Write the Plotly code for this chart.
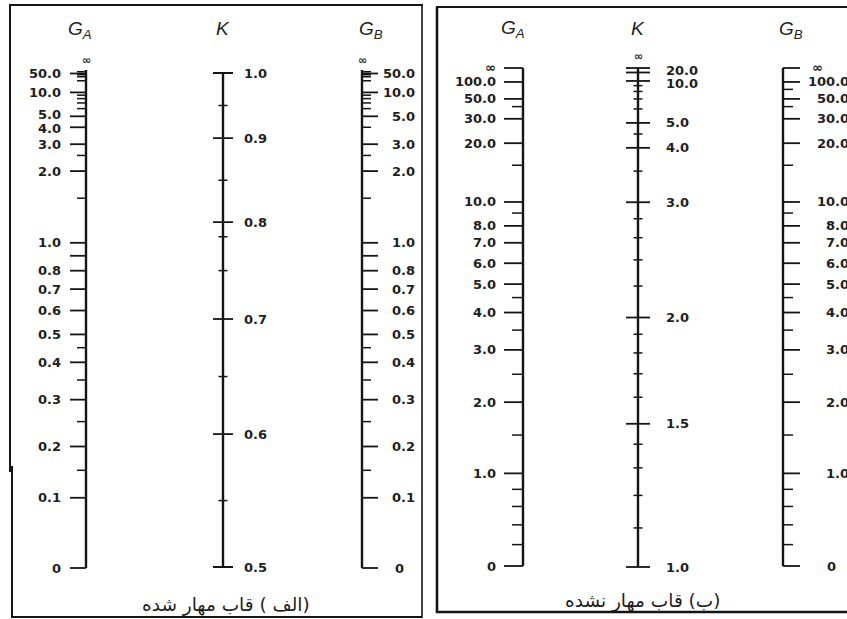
import numpy as np
import plotly.graph_objects as go

INF = float("inf")

# ---------------- Data ----------------
# (الف) braced frame — G scale calibration: value -> fraction along scale
BR_G_CAL_VALUES = [0, 0.1, 0.2, 0.3, 0.4, 0.5, 0.6, 0.7, 0.8, 1.0, 2.0, 3.0, 4.0, 5.0, 10.0, 50.0, INF]
BR_G_CAL_FRAC = [0, 0.141, 0.244, 0.338, 0.413, 0.469, 0.517, 0.560, 0.597, 0.653,
                 0.797, 0.851, 0.885, 0.907, 0.955, 0.993, 1.0]
BR_GA_MAJOR = [0, 0.1, 0.2, 0.3, 0.4, 0.5, 0.6, 0.7, 0.8, 0.9, 1.0, 2.0, 3.0, 4.0, 5.0, 10.0, 50.0]
BR_GA_MINOR = [0.15, 0.25, 0.35, 0.45, 1.5, 2.5, 6, 7, 8, 9, 20, 30, 40, 100]
BR_GA_LABELS = [0, 0.1, 0.2, 0.3, 0.4, 0.5, 0.6, 0.7, 0.8, 1.0, 2.0, 3.0, 4.0, 5.0, 10.0, 50.0]
BR_GB_MAJOR = [0, 0.1, 0.2, 0.3, 0.4, 0.5, 0.6, 0.7, 0.8, 0.9, 1.0, 2.0, 3.0, 5.0, 10.0, 50.0]
BR_GB_MINOR = [0.15, 0.25, 0.35, 0.45, 1.5, 2.5, 4.0, 6, 7, 8, 9, 20, 30, 40, 100]
BR_GB_LABELS = [0, 0.1, 0.2, 0.3, 0.4, 0.5, 0.6, 0.7, 0.8, 1.0, 2.0, 3.0, 5.0, 10.0, 50.0]
BR_K_CAL_VALUES = [0.5, 0.6, 0.7, 0.8, 0.9, 1.0]
BR_K_CAL_FRAC = [0, 0.269, 0.502, 0.698, 0.868, 1.0]
BR_K_MAJOR = [0.5, 0.6, 0.7, 0.8, 0.9, 1.0]
BR_K_MINOR = [0.55, 0.65, 0.75, 0.785, 0.85, 0.95]
BR_K_LABELS = [0.5, 0.6, 0.7, 0.8, 0.9, 1.0]

# (ب) unbraced frame
UB_G_CAL_VALUES = [0, 1, 2, 3, 4, 5, 6, 7, 8, 10, 20, 30, 50, 100, INF]
UB_G_CAL_FRAC = [0, 0.186, 0.329, 0.434, 0.509, 0.566, 0.608, 0.649, 0.683, 0.731,
                 0.849, 0.898, 0.938, 0.972, 1.0]
UB_GA_MAJOR = [0, 1, 2, 3, 4, 5, 6, 7, 8, 10, 20, 30, 50, 100, INF]
UB_GA_MINOR = [0.2, 0.4, 0.6, 0.8, 1.5, 2.5, 3.5, 4.5, 9, 15, 40]
UB_GA_LABELS = [0, 1, 2, 3, 4, 5, 6, 7, 8, 10, 20, 30, 50, 100, INF]
UB_GB_MAJOR = [0, 1, 2, 3, 4, 5, 6, 7, 8, 10, 20, 30, 50, 100, INF]
UB_GB_MINOR = [0.2, 0.4, 0.6, 0.8, 1.5, 2.5, 3.5, 4.5, 9, 15, 40, 70]
UB_GB_LABELS = [0, 1, 2, 3, 4, 5, 6, 7, 8, 10, 20, 30, 50, 100]
UB_K_CAL_VALUES = [1.0, 1.5, 2.0, 3.0, 4.0, 5.0, 10.0, 20.0, INF]
UB_K_CAL_FRAC = [0, 0.287, 0.500, 0.731, 0.840, 0.890, 0.974, 0.991, 1.0]
UB_K_MAJOR = [1.0, 1.5, 2.0, 3.0, 4.0, 5.0, 10.0, 20.0, INF]
UB_K_MINOR = [1.1, 1.2, 1.3, 1.4, 1.6, 1.7, 1.8, 1.9, 2.2, 2.4, 2.6, 2.8, 3.5, 4.5, 6, 7, 8, 9]
UB_K_LABELS = [1.0, 1.5, 2.0, 3.0, 4.0, 5.0, 10.0, 20.0]

CAPTION_BRACED = "\u202b(الف ) قاب مهار شده\u202c"
CAPTION_UNBRACED = "\u202b(ب) قاب مهار نشده\u202c"

# ---------------- Layout / style ----------------
W, H = 847, 619
INK = "#151515"
NUM_FONT = dict(family="DejaVu Sans", size=13, color="#1e1e1e", weight="bold")
TITLE_FONT = dict(family="Liberation Sans", size=19, color="#1e1e1e", style="italic")
CAP_FONT = dict(family="DejaVu Sans", size=18.5, color="#1e1e1e")
PAD = 0.05
# small vertical nudges (px) for crowded labels, keyed by value
NUDGE_BR_GA = {5.0: -1.5, 4.0: 1.5}
NUDGE_UB_K = {20.0: -2, 10.0: 3}


def warp_g(c):
    return lambda v: 1.0 if np.isinf(v) else v / (v + c)


def warp_lin(v):
    return v


def warp_inv(v):
    return 1.0 if np.isinf(v) else 1.0 - 1.0 / v


def make_scale(cal_vals, cal_frac, warp):
    wv = np.array([warp(v) for v in cal_vals])
    fr = np.array(cal_frac)
    return lambda v: float(np.interp(warp(v), wv, fr))


def fmt(v):
    if np.isinf(v):
        return "∞"
    if v == 0:
        return "0"
    return f"{v:.1f}"


def axis_domain(y_bottom_px, y_top_px):
    L = y_bottom_px - y_top_px
    return [1 - (y_bottom_px + PAD * L) / H, 1 - (y_top_px - PAD * L) / H]


traces = []
annotations = []


def tick_trace(xc, side, length, values, scale, yaxis, width):
    xs, ys = [], []
    for v in values:
        s = scale(v)
        if side == "left":
            xs += [xc - length, xc, None]
        elif side == "right":
            xs += [xc, xc + length, None]
        else:
            xs += [xc - length, xc + length, None]
        ys += [s, s, None]
    traces.append(go.Scatter(x=xs, y=ys, mode="lines", xaxis="x", yaxis=yaxis,
                             line=dict(color=INK, width=width), hoverinfo="skip",
                             showlegend=False))


def spine(xc, yaxis):
    traces.append(go.Scatter(x=[xc, xc], y=[0, 1], mode="lines", xaxis="x", yaxis=yaxis,
                             line=dict(color=INK, width=2.4), hoverinfo="skip",
                             showlegend=False))


def labels(values, scale, yref, x, anchor, special_zero=None, nudge=None, xshift=0):
    for v in values:
        xx, aa, xs = x, anchor, xshift
        if v == 0 and special_zero is not None:
            xx, aa = special_zero
            xs = 0
        ys = -(nudge or {}).get(v, 0)
        annotations.append(dict(x=xx, y=scale(v), xref="x", yref=yref, text=fmt(v),
                                showarrow=False, xanchor=aa, yanchor="middle",
                                xshift=xs, yshift=ys, font=NUM_FONT))


def top_symbol(x, yref, yshift=1):
    annotations.append(dict(x=x, y=1.0, xref="x", yref=yref, text="∞", showarrow=False,
                            xanchor="center", yanchor="bottom", yshift=yshift,
                            font=dict(family="DejaVu Sans", size=11, color="#1e1e1e",
                                      weight="bold")))


def title(x, text, ypx):
    annotations.append(dict(x=x, y=1 - ypx / H, xref="x", yref="paper", text=text,
                            showarrow=False, xanchor="center", yanchor="middle",
                            font=TITLE_FONT))


# ---- braced panel (الف)
br_g = make_scale(BR_G_CAL_VALUES, BR_G_CAL_FRAC, warp_g(0.55))
br_k = make_scale(BR_K_CAL_VALUES, BR_K_CAL_FRAC, warp_lin)
BR_GA_X, BR_K_X, BR_GB_X = 86, 223, 362

spine(BR_GA_X, "y")
tick_trace(BR_GA_X, "left", 16, BR_GA_MAJOR, br_g, "y", 1.8)
tick_trace(BR_GA_X, "left", 9, BR_GA_MINOR, br_g, "y", 1.5)
labels(BR_GA_LABELS, br_g, "y", 63, "right", nudge=NUDGE_BR_GA)
top_symbol(BR_GA_X, "y")

spine(BR_GB_X, "y")
tick_trace(BR_GB_X, "right", 16, BR_GB_MAJOR, br_g, "y", 1.8)
tick_trace(BR_GB_X, "right", 9, BR_GB_MINOR, br_g, "y", 1.5)
labels(BR_GB_LABELS, br_g, "y", 417, "right", special_zero=(393, "left"))
top_symbol(BR_GB_X, "y")

spine(BR_K_X, "y2")
tick_trace(BR_K_X, "both", 10, BR_K_MAJOR, br_k, "y2", 1.8)
tick_trace(BR_K_X, "both", 4.5, BR_K_MINOR, br_k, "y2", 1.5)
labels(BR_K_LABELS, br_k, "y2", 242, "left")

title(80, "<i>G</i><sub><i>A</i></sub>", 30)
title(223, "<i>K</i>", 28)
title(371, "<i>G</i><sub><i>B</i></sub>", 30)

# ---- unbraced panel (ب)
ub_g = make_scale(UB_G_CAL_VALUES, UB_G_CAL_FRAC, warp_g(5.0))
ub_k = make_scale(UB_K_CAL_VALUES, UB_K_CAL_FRAC, warp_inv)
UB_GA_X, UB_K_X, UB_GB_X = 523, 638, 783

spine(UB_GA_X, "y3")
tick_trace(UB_GA_X, "left", 19, UB_GA_MAJOR, ub_g, "y3", 1.8)
tick_trace(UB_GA_X, "left", 11, UB_GA_MINOR, ub_g, "y3", 1.5)
labels(UB_GA_LABELS, ub_g, "y3", 498, "right")

spine(UB_GB_X, "y3")
tick_trace(UB_GB_X, "right", 17, UB_GB_MAJOR, ub_g, "y3", 1.8)
tick_trace(UB_GB_X, "right", 10, UB_GB_MINOR, ub_g, "y3", 1.5)
# labels run off the right edge of the picture as in the reference
labels(UB_GB_LABELS, ub_g, "y3", W, "right", special_zero=(825, "left"), xshift=4)
annotations.append(dict(x=810, y=ub_g(INF), xref="x", yref="y3", text="∞", showarrow=False,
                        xanchor="left", yanchor="middle", font=NUM_FONT))

spine(UB_K_X, "y4")
tick_trace(UB_K_X, "both", 12, UB_K_MAJOR, ub_k, "y4", 1.8)
tick_trace(UB_K_X, "both", 4.5, UB_K_MINOR, ub_k, "y4", 1.5)
labels(UB_K_LABELS, ub_k, "y4", 664, "left", nudge=NUDGE_UB_K)
top_symbol(UB_K_X, "y4", yshift=3)

title(513, "<i>G</i><sub><i>A</i></sub>", 29)
title(638, "<i>K</i>", 28)
title(791, "<i>G</i><sub><i>B</i></sub>", 30)

# captions
annotations.append(dict(x=226, y=1 - 605 / H, xref="x", yref="paper", text=CAPTION_BRACED,
                        showarrow=False, xanchor="center", yanchor="middle", font=CAP_FONT))
annotations.append(dict(x=642, y=1 - 601 / H, xref="x", yref="paper", text=CAPTION_UNBRACED,
                        showarrow=False, xanchor="center", yanchor="middle", font=CAP_FONT))


def pline(x0, y0, x1, y1, w):
    return dict(type="line", xref="x", yref="paper", x0=x0, x1=x1,
                y0=1 - y0 / H, y1=1 - y1 / H, line=dict(color=INK, width=w))


shapes = [
    # braced frame
    pline(9, 5, 423, 5, 2), pline(422, 5, 422, 618, 1.6), pline(12, 617, 422, 617, 2),
    pline(10, 5, 10, 472, 2), pline(12, 466, 12, 618, 2),
    # unbraced frame
    pline(436, 7, W, 7, 2.2), pline(437, 7, 437, 613, 2.6), pline(436, 612, W, 612, 2.6),
]

fig = go.Figure(traces)
hidden = dict(visible=False, fixedrange=True)
fig.update_layout(
    width=W, height=H, margin=dict(l=0, r=0, t=0, b=0),
    paper_bgcolor="white", plot_bgcolor="rgba(0,0,0,0)", showlegend=False,
    xaxis=dict(range=[0, W], domain=[0, 1], anchor="y", **hidden),
    yaxis=dict(range=[-PAD, 1 + PAD], domain=axis_domain(568, 70), anchor="x", **hidden),
    yaxis2=dict(range=[-PAD, 1 + PAD], domain=axis_domain(567, 73), anchor="x", **hidden),
    yaxis3=dict(range=[-PAD, 1 + PAD], domain=axis_domain(566, 68), anchor="x", **hidden),
    yaxis4=dict(range=[-PAD, 1 + PAD], domain=axis_domain(567, 68), anchor="x", **hidden),
    annotations=annotations, shapes=shapes,
)
fig.write_html("out.html", config={"displayModeBar": False},
               post_script="document.body.style.margin='0px';")
